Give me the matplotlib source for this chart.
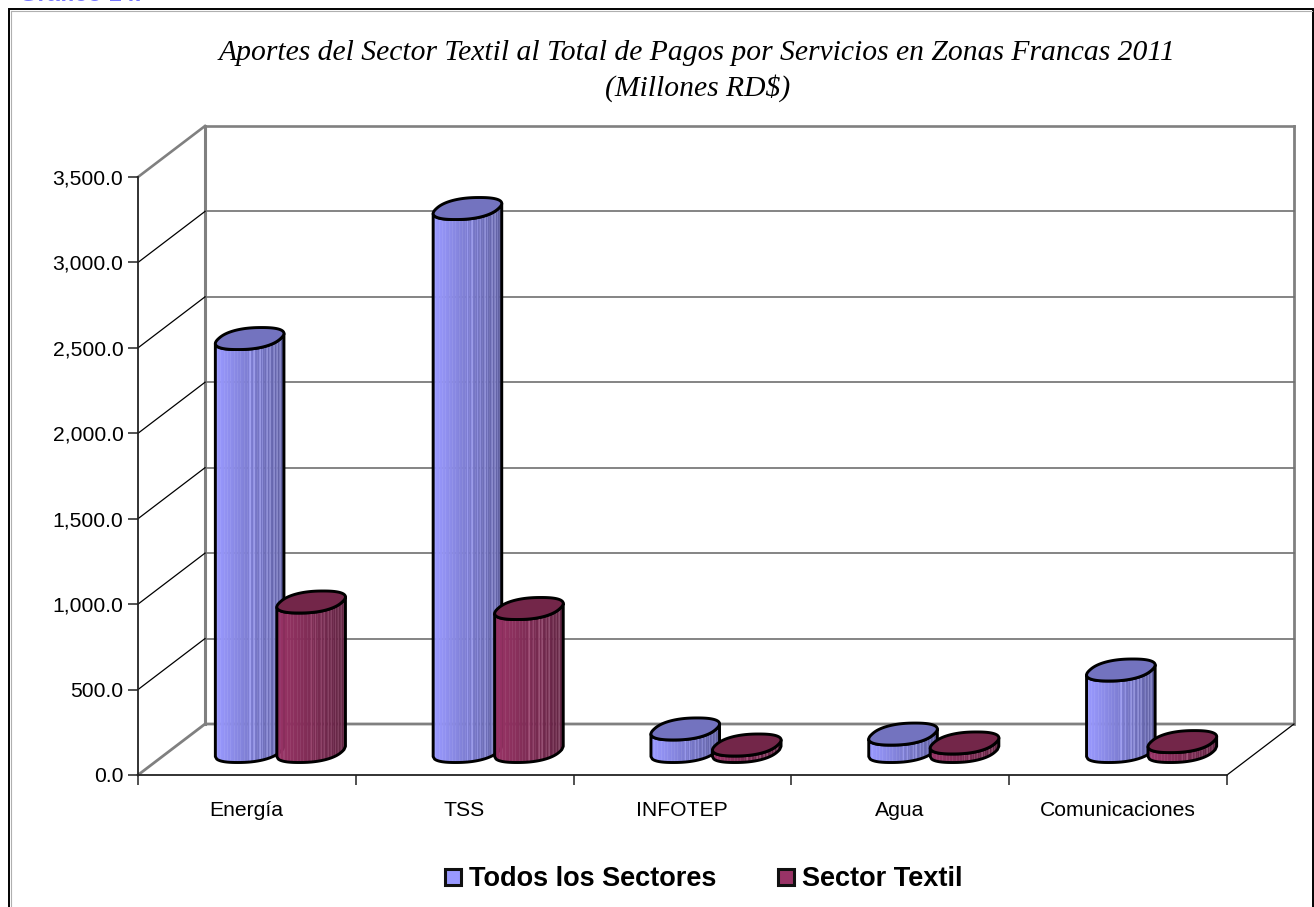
import numpy as np
import matplotlib
matplotlib.use("Agg")
import matplotlib.pyplot as plt
from matplotlib.patches import Rectangle, Polygon
from matplotlib.lines import Line2D
from matplotlib.colors import to_rgb

# ---- data ----
categories = ["Energía", "TSS", "INFOTEP", "Agua", "Comunicaciones"]
todos = [2417, 3178, 132, 102, 477]
textil = [875, 837, 38, 50, 58]
series_names = ["Todos los Sectores", "Sector Textil"]
yticks = [0, 500, 1000, 1500, 2000, 2500, 3000, 3500]
title_lines = "Aportes del Sector Textil al Total de Pagos por Servicios en Zonas Francas 2011\n(Millones RD$)"
clipped_label = "Gráfico 14."

W, H = 1314, 907
fig = plt.figure(figsize=(W / 100, H / 100), dpi=100, facecolor="white")
L, R, B, T = 138, 1227, 775, 177
ax = fig.add_axes([L / W, 1 - B / H, (R - L) / W, (B - T) / H])
ax.set_xlim(0, 5)
ax.set_ylim(0, 3500)
ax.patch.set_alpha(0)
pxx = 5 / (R - L)
pxy = 3500 / (B - T)
DX, DY = 67 * pxx, 51 * pxy

GREY = "#808080"
# walls
ax.plot([DX, DX], [DY, 3500 + DY], color=GREY, lw=2.2, clip_on=False, zorder=1)
ax.plot([5 + DX, 5 + DX], [DY, 3500 + DY], color=GREY, lw=2.0, clip_on=False, zorder=1)
ax.plot([DX, 5 + DX], [3500 + DY, 3500 + DY], color=GREY, lw=1.9, clip_on=False, zorder=1)
ax.plot([0, DX, 5 + DX], [0, DY, DY], color=GREY, lw=2.0, clip_on=False, zorder=1)
ax.plot([0, DX], [3500, 3500 + DY], color=GREY, lw=1.9, clip_on=False, zorder=1)
for v in yticks[1:-1]:
    ax.plot([DX, 5 + DX], [v + DY, v + DY], color="#6f6f6f", lw=1.2, clip_on=False, zorder=1)
    ax.plot([0, DX], [v, v + DY], color="black", lw=0.9, clip_on=False, zorder=1)
ax.plot([5, 5 + DX], [0, DY], color="black", lw=0.9, clip_on=False, zorder=1)

# axes
for s in ("top", "right"):
    ax.spines[s].set_visible(False)
for s in ("left", "bottom"):
    ax.spines[s].set_linewidth(1.3)
    ax.spines[s].set_color("#222222")
ax.set_yticks(yticks)
ax.set_yticklabels([f"{v:,.1f}" for v in yticks], fontsize=15.2, family="Liberation Sans")
ax.set_xticks(range(6))
ax.set_xticklabels([])
ax.tick_params(axis="both", length=7.5, width=1.1, color="#222222", pad=3)
for i, c in enumerate(categories):
    ax.text(i + 0.5 - 0.5 * pxx, -35 * pxy, c, ha="center", va="center", fontsize=15.2,
            family="Liberation Sans")

# cylinders
A, C, OX = 31 * pxx, 11 * pxy, 12 * pxx   # ellipse half axis / shear
BASE_DX, BASE_DY = 33.5 * pxx, 23.5 * pxy
POW = 0.85


def shade(base, dark, f):
    b, d = np.array(to_rgb(base)), np.array(to_rgb(dark))
    return tuple(b + (d - b) * f)


def rim():
    t = np.linspace(0, 2 * np.pi, 361)[:-1]
    u = np.sign(np.cos(t)) * np.abs(np.cos(t)) ** POW
    v = np.sign(np.sin(t)) * np.abs(np.sin(t)) ** POW
    return A * u + OX * v, C * v


def cylinder(xc, val, left, right, topc, z):
    x0 = xc + BASE_DX
    y0 = BASE_DY
    ex, ey = rim()
    i0, i1 = int(np.argmin(ex)), int(np.argmax(ex))
    idx = np.arange(i0, i1 + (360 if i1 < i0 else 0) + 1) % 360
    lx, ly = ex[idx], ey[idx]
    # resample lower silhouette into evenly wide vertical strips
    n = 48
    sx = np.linspace(lx[0], lx[-1], n + 1)
    order = np.argsort(lx)
    sy = np.interp(sx, lx[order], ly[order])
    for k in range(n):
        f = k / n
        col = shade(left, right, f ** 1.1)
        if k in (24, 27, 31, 33, 36, 38, 41, 43, 45):
            col = tuple(min(1, c + 0.11) for c in col)
        ax.fill([x0 + sx[k], x0 + sx[k + 1], x0 + sx[k + 1], x0 + sx[k]],
                [y0 + sy[k], y0 + sy[k + 1], y0 + val + sy[k + 1], y0 + val + sy[k]],
                color=col, lw=0, alpha=0.93, antialiased=False, clip_on=False, zorder=z)
    ox = np.r_[x0 + sx, (x0 + sx)[::-1]]
    oy = np.r_[y0 + sy, (y0 + val + sy)[::-1]]
    ax.add_patch(Polygon(np.c_[ox, oy], closed=True, fill=False, ec="black", lw=2.1, clip_on=False, zorder=z + 0.1, joinstyle="round"))
    ax.fill(x0 + ex, y0 + val + ey, facecolor=topc, edgecolor="black", lw=2.1, clip_on=False, zorder=z + 0.2)


GAP = 61.5 * pxx
for i in range(5):
    mid = i + 0.5
    cylinder(mid - GAP / 2, todos[i], "#9999FF", "#5C5C9C", "#7373BF", 3 + i)
    cylinder(mid + GAP / 2, textil[i], "#993366", "#5E2240", "#732649", 3.5 + i)

# legend
handles = [Line2D([], [], ls="", marker="s", ms=12.2, mfc=c, mec="#111111", mew=2.2)
           for c in ("#9999FF", "#993366")]
fig.legend(handles, series_names, loc="center", bbox_to_anchor=(700.5 / W, 1 - 879 / H), ncol=2, frameon=False,
           prop={"family": "Liberation Sans", "weight": "bold", "size": 19.5},
           handletextpad=0.05, columnspacing=2.0, handlelength=1.1)

# title
fig.text(697.5 / W, 1 - 71 / H, title_lines, ha="center", va="center", fontsize=21.3, style="italic",
         family="Liberation Serif", linespacing=1.36)

# frame and clipped heading
fig.add_artist(Rectangle((9 / W, -0.01), (W - 10) / W, 1 - 9 / H + 0.01, transform=fig.transFigure, fill=False, ec="black", lw=1.4))
fig.add_artist(Line2D([10.5 / W, 1312 / W], [1 - 10.5 / H] * 2, color="#b0b0b0", lw=0.8))
fig.add_artist(Line2D([10.5 / W] * 2, [0, 1 - 10.5 / H], color="#b0b0b0", lw=0.8))
fig.text(19 / W, 1 - 1 / H, clipped_label, color="#7777FF", fontsize=17, weight="bold", family="Liberation Sans", va="baseline")

fig.savefig("out.png", dpi=100)
